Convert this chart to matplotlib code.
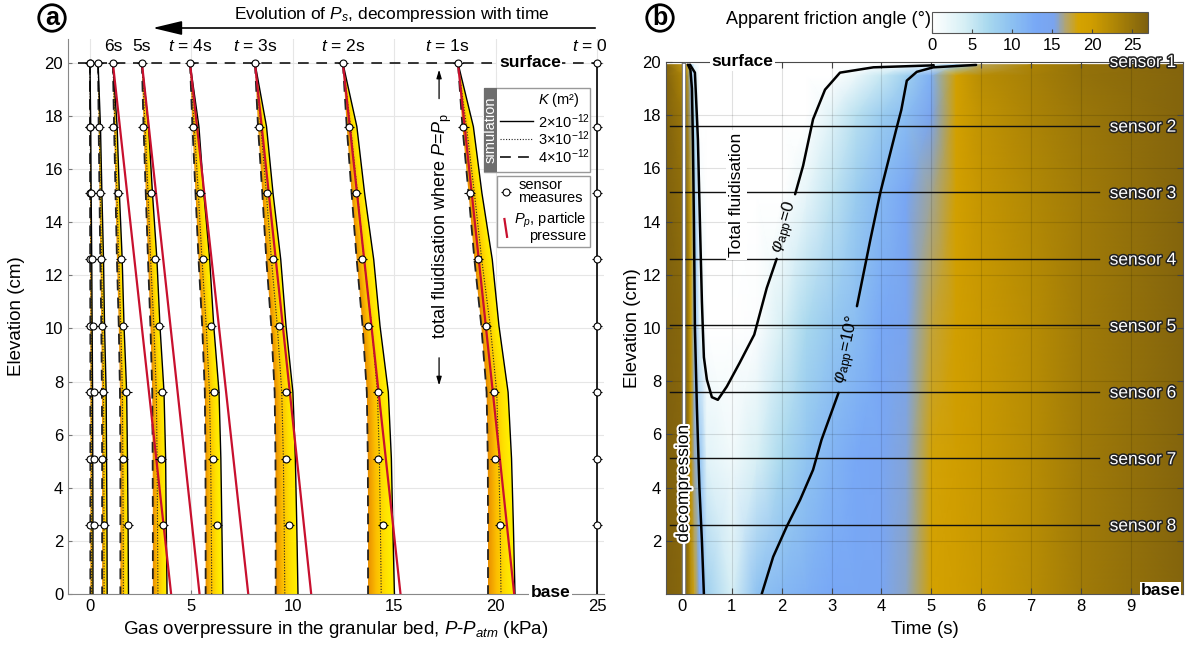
import numpy as np
import matplotlib
matplotlib.use('Agg')
import matplotlib.pyplot as plt
from matplotlib.colors import LinearSegmentedColormap, Normalize
from matplotlib.patches import Polygon, Rectangle, FancyArrowPatch
import matplotlib.patheffects as pe
import matplotlib.cm as cm

plt.rcParams['font.family'] = ['Liberation Sans', 'DejaVu Sans']
plt.rcParams['mathtext.fontset'] = 'custom'
plt.rcParams['mathtext.rm'] = 'Liberation Sans'
plt.rcParams['mathtext.it'] = 'Liberation Sans:italic'
plt.rcParams['mathtext.bf'] = 'Liberation Sans:bold'

# ---------------- data: panel (a) ----------------
sensor_z = [20, 17.6, 15.1, 12.6, 10.1, 7.6, 5.1, 2.6]
node_z = [20, 17.6, 15.1, 12.6, 10.1, 7.6, 5.1, 2.6, 0]

# simulated gas overpressure profiles (kPa) for 8 times (late -> early)
sim_K4 = [  # K = 4e-12 (dashed)
    [0.00, 0.00, 0.01, 0.01, 0.02, 0.02, 0.02, 0.02, 0.02],
    [0.40, 0.43, 0.47, 0.51, 0.56, 0.59, 0.60, 0.60, 0.60],
    [1.13, 1.19, 1.26, 1.33, 1.42, 1.48, 1.50, 1.50, 1.50],
    [2.56, 2.64, 2.75, 2.86, 2.98, 3.07, 3.09, 3.10, 3.10],
    [4.93, 5.05, 5.20, 5.35, 5.53, 5.66, 5.69, 5.70, 5.70],
    [8.13, 8.28, 8.49, 8.69, 8.93, 9.10, 9.14, 9.15, 9.15],
    [12.46, 12.65, 12.89, 13.14, 13.43, 13.64, 13.69, 13.70, 13.70],
    [18.13, 18.35, 18.65, 18.94, 19.28, 19.54, 19.60, 19.61, 19.61],
]
sim_K3 = [  # K = 3e-12 (dotted)
    [0.00, 0.02, 0.03, 0.04, 0.06, 0.07, 0.08, 0.08, 0.08],
    [0.40, 0.46, 0.51, 0.57, 0.63, 0.67, 0.69, 0.69, 0.70],
    [1.13, 1.23, 1.33, 1.42, 1.52, 1.60, 1.62, 1.64, 1.65],
    [2.56, 2.72, 2.86, 2.99, 3.15, 3.27, 3.31, 3.33, 3.35],
    [4.93, 5.14, 5.34, 5.52, 5.73, 5.89, 5.95, 5.98, 6.00],
    [8.13, 8.42, 8.69, 8.94, 9.23, 9.45, 9.53, 9.57, 9.60],
    [12.46, 12.84, 13.18, 13.50, 13.88, 14.16, 14.26, 14.31, 14.35],
    [18.13, 18.55, 18.94, 19.30, 19.72, 20.04, 20.14, 20.21, 20.25],
]
sim_K2 = [  # K = 2e-12 (solid)
    [0.00, 0.04, 0.06, 0.09, 0.11, 0.13, 0.14, 0.15, 0.15],
    [0.40, 0.52, 0.59, 0.67, 0.72, 0.80, 0.82, 0.84, 0.85],
    [1.13, 1.34, 1.45, 1.59, 1.68, 1.81, 1.85, 1.88, 1.90],
    [2.56, 2.89, 3.08, 3.30, 3.45, 3.65, 3.73, 3.76, 3.80],
    [4.93, 5.37, 5.61, 5.90, 6.10, 6.36, 6.45, 6.50, 6.55],
    [8.13, 8.70, 9.02, 9.40, 9.66, 10.00, 10.12, 10.19, 10.25],
    [12.46, 13.15, 13.53, 13.98, 14.29, 14.70, 14.85, 14.92, 15.00],
    [18.13, 18.89, 19.31, 19.82, 20.15, 20.60, 20.77, 20.86, 20.94],
]
# measured sensor values (kPa)
sensor_P = [
    [0.00, 0.00, 0.00, 0.00, 0.00, 0.00, 0.00, 0.00],
    [0.00, 0.02, 0.05, 0.10, 0.15, 0.21, 0.20, 0.21],
    [0.39, 0.46, 0.49, 0.55, 0.60, 0.66, 0.61, 0.69],
    [1.13, 1.12, 1.38, 1.55, 1.65, 1.80, 1.64, 1.86],
    [2.56, 2.63, 2.99, 3.20, 3.40, 3.56, 3.48, 3.61],
    [4.93, 5.06, 5.42, 5.57, 5.96, 6.12, 6.07, 6.24],
    [8.13, 8.33, 8.74, 9.00, 9.30, 9.65, 9.64, 9.82],
    [12.48, 12.76, 13.09, 13.40, 13.70, 14.19, 14.19, 14.43],
    [18.13, 18.40, 18.70, 19.10, 19.50, 19.90, 19.95, 20.20],
    [25.0, 25.0, 25.0, 25.0, 25.0, 25.0, 25.0, 25.0],
]
# particle pressure lines: value at surface and at base
Pp_top = [1.13, 2.56, 4.93, 8.13, 12.46, 18.13]
Pp_base = [4.0, 5.4, 7.8, 10.9, 15.3, 20.9]
time_labels = ['6s', '5s', r'$t$ = 4s', r'$t$ = 3s', r'$t$ = 2s', r'$t$ = 1s', r'$t$ = 0']
time_label_x = [1.13, 2.56, 4.93, 8.13, 12.46, 17.6, 24.65]

# ---------------- data: panel (b) ----------------
field_t = [-0.35, 0.1, 0.18, 0.25, 0.35, 0.5, 1.0, 1.5, 2.0, 2.5, 3.0, 3.5,
           4.0, 4.5, 5.0, 5.5, 6.0, 7.0, 8.0, 10.1]
field_z = [0, 5, 10, 15, 18, 19.5, 19.9]
phi_z0 = [27, 26, 22, 18, 14, 8, 4, 9.8, 11, 12, 13, 13.5, 14, 15.8, 18.5, 19.8, 20.5, 22, 24, 26.5]
phi_z5 = [27, 26, 21, 16, 10, 3, 1.5, 4, 7, 9.5, 11.5, 13, 14, 15.6, 18.2, 19.6, 20.5, 22, 24, 26.5]
phi_z10 = [27, 26, 20, 11, 3, 0, 0, 0.5, 4, 7, 9, 10.5, 13, 15.2, 17.5, 19.5, 20.5, 22, 24, 26.5]
phi_z15 = [27, 25, 18, 9, 1, 0, 0, 0, 0, 2.5, 5.5, 8.5, 11, 14, 16.3, 19, 20.8, 22.5, 24, 26.5]
phi_z18 = [27, 24, 16, 7, 0, 0, 0, 0, 0, 0, 3, 6, 8.5, 10.5, 15.2, 19, 21.3, 23, 24.5, 26.5]
phi_z195 = [27, 22, 12, 4, 0, 0, 0, 0, 0, 0, 0, 2, 5, 8, 12, 19, 22, 23.5, 25, 26.5]
phi_z199 = [27, 18, 8, 2, 0, 0, 0, 0, 0, 0, 0, 0, 0, 1, 3, 9, 17, 23, 25, 26.5]

# contour phi_app = 0 (two pieces, gap for label)
phi0_a_t = [0.16, 0.26, 0.32, 0.36, 0.40, 0.42, 0.44, 0.50, 0.60, 0.72, 0.90, 1.16, 1.45, 1.70, 1.90]
phi0_a_z = [19.9, 19.6, 17.1, 14.0, 11.0, 9.9, 8.9, 8.06, 7.4, 7.3, 7.8, 8.7, 9.75, 11.5, 12.6]
phi0_b_t = [2.27, 2.43, 2.63, 2.87, 3.17, 3.84, 4.98, 5.05]
phi0_b_z = [15.03, 16.1, 17.85, 18.96, 19.6, 19.8, 19.87, 19.88]
# contour phi_app = 10 deg
phi10_l_t = [0.12, 0.17, 0.20, 0.22, 0.24, 0.26, 0.30, 0.35, 0.40, 0.44]
phi10_l_z = [19.9, 19.7, 19.0, 17.0, 14.0, 10.0, 7.0, 4.0, 2.0, 0.0]
phi10_a_t = [3.51, 3.78, 3.98, 4.30, 4.40, 4.51, 4.71, 5.04, 5.90]
phi10_a_z = [10.82, 13.33, 15.1, 17.48, 18.2, 19.3, 19.63, 19.8, 19.89]
phi10_b_t = [3.14, 2.80, 2.63, 2.37, 2.10, 1.83, 1.60]
phi10_b_z = [7.56, 5.8, 4.67, 3.54, 2.53, 1.4, 0.0]
sensor_names = ['sensor %d' % i for i in range(1, 9)]

# ---------------- figure ----------------
W, H = 1189, 648
fig = plt.figure(figsize=(W / 100, H / 100), dpi=100)
axA = fig.add_axes([68 / W, 1 - 594 / H, (603.5 - 68) / W, (594 - 39) / H])
axB = fig.add_axes([666 / W, 1 - 594 / H, (1183 - 666) / W, (594 - 62) / H])
cax = fig.add_axes([932 / W, 1 - 33 / H, 216 / W, 21 / H])

FS_TICK = 12
FS_LAB = 13.5

# ---- panel a ----
band_cmap = LinearSegmentedColormap.from_list(
    'band', [(0, '#ea9000'), (0.3, '#fcbe00'), (0.65, '#ffe000'), (1, '#fff400')])
zz = np.linspace(0, 20, 300)
zn = np.array(node_z)[::-1]
for L, M, R in zip(sim_K4, sim_K3, sim_K2):
    L = np.array(L); R = np.array(R)
    xs = np.concatenate([L, R[::-1]])
    ys = np.concatenate([node_z, node_z[::-1]])
    poly = Polygon(np.column_stack([xs, ys]), closed=True, fc='none', ec='none')
    axA.add_patch(poly)
    x0, x1 = L.min() - 0.05, R.max() + 0.05
    xx = np.linspace(x0, x1, 200)
    Li = np.interp(zz, zn, L[::-1]); Ri = np.interp(zz, zn, R[::-1])
    frac = (xx[None, :] - Li[:, None]) / np.maximum(Ri - Li, 1e-3)[:, None]
    im = axA.imshow(np.clip(frac, 0, 1), extent=[x0, x1, 0, 20], origin='lower', cmap=band_cmap,
                    vmin=0, vmax=1, aspect='auto', interpolation='bilinear', zorder=2)
    im.set_clip_path(poly)
    axA.plot(L, node_z, color='#222222', lw=1.3, ls=(0, (6, 4)), zorder=3)
    axA.plot(M, node_z, color='#222222', lw=0.8, ls=(0, (1, 1.5)), zorder=3)
    axA.plot(R, node_z, color='black', lw=1.0, zorder=3)

# t = 0 profile
axA.plot([25, 25], [0, 20], color='black', lw=1.2, zorder=3)

for a, b in zip(Pp_top, Pp_base):
    axA.plot([a, b], [20, 0], color='#c8102e', lw=1.6, zorder=4)

for P in sensor_P:
    axA.errorbar(P, sensor_z, xerr=0.25, fmt='o', ms=5, mfc='white', mec='black', mew=0.8,
                 ecolor='black', elinewidth=0.8, capsize=0, zorder=6)

# surface dashed line
axA.plot([-0.6, 25], [20, 20], color='black', lw=1.1, ls=(0, (7, 5)), zorder=2.5)

axA.set_xlim(-1.08, 25.3)
axA.set_ylim(0, 20.9)
axA.set_xticks(range(0, 26, 5))
axA.set_yticks(range(0, 21, 2))
axA.tick_params(direction='in', length=3, labelsize=FS_TICK, color='#777777')
for s in ['top', 'right']:
    axA.spines[s].set_visible(False)
for s in ['left', 'bottom']:
    axA.spines[s].set_color('#888888')
axA.grid(True, color='#e6e6e6', lw=0.8)
axA.set_axisbelow(True)
axA.set_xlabel('Gas overpressure in the granular bed, $P$-$P_{atm}$ (kPa)', fontsize=FS_LAB, labelpad=4)
axA.set_ylabel('Elevation (cm)', fontsize=FS_LAB, labelpad=14)

for lab, x in zip(time_labels, time_label_x):
    axA.text(x, 20.62, lab, ha='center', va='center', fontsize=12.5, zorder=7)

axA.text(21.67, 20, 'surface', fontsize=12.5, fontweight='bold', ha='center', va='center', zorder=7,
         bbox=dict(fc='white', ec='none', pad=1))
axA.text(22.7, 0.05, 'base', fontsize=12.5, fontweight='bold', ha='center', va='center', zorder=7,
         bbox=dict(fc='white', ec='none', pad=1), clip_on=False)

# total fluidisation annotation
axA.text(17.35, 13.86, 'total fluidisation where $P$=$P_\\mathrm{p}$', rotation=90, fontsize=13,
         ha='center', va='center', zorder=7)
axA.annotate('', xy=(17.2, 19.85), xytext=(17.2, 18.55),
             arrowprops=dict(arrowstyle='-|>,head_length=0.5,head_width=0.15', color='black', lw=0.9), zorder=7)
axA.annotate('', xy=(17.2, 7.75), xytext=(17.2, 9.0),
             arrowprops=dict(arrowstyle='-|>,head_length=0.5,head_width=0.15', color='black', lw=0.9), zorder=7)

# legend box 1 (simulation)
axA.add_patch(Rectangle((19.41, 15.89), 5.22, 3.17, fc='white', ec='#999999', lw=1, zorder=8))
axA.add_patch(Rectangle((19.41, 15.89), 0.64, 3.17, fc='#6e6e6e', ec='none', zorder=9))
axA.text(19.73, 17.47, 'simulation', rotation=90, color='white', fontsize=10.5, ha='center', va='center', zorder=10)
axA.text(23.1, 18.62, '$K$ (m²)', fontsize=10.5, ha='center', va='center', zorder=10)
leg_styles = [dict(color='black', lw=1.0), dict(color='#222222', lw=0.8, ls=(0, (1, 1.5))),
              dict(color='#222222', lw=1.3, ls=(0, (6, 4)))]
leg_labels = ['2×10$^{-12}$', '3×10$^{-12}$', '4×10$^{-12}$']
for zy, st, lab in zip([17.8, 17.15, 16.45], leg_styles, leg_labels):
    axA.plot([20.2, 21.85], [zy, zy], zorder=10, **st)
    axA.text(22.05, zy, lab, fontsize=10.5, ha='left', va='center', zorder=10)

# legend box 2
axA.add_patch(Rectangle((20.05, 13.07), 4.58, 2.67, fc='white', ec='#999999', lw=1, zorder=8))
axA.errorbar([20.5], [15.14], xerr=0.25, fmt='o', ms=5, mfc='white', mec='black', mew=0.8,
             ecolor='black', elinewidth=0.8, capsize=0, zorder=10)
axA.text(21.1, 15.15, 'sensor\nmeasures', fontsize=10.5, ha='left', va='center', linespacing=0.95, zorder=10)
axA.plot([20.42, 20.55], [14.12, 13.45], color='#c8102e', lw=1.6, zorder=10)
axA.text(24.45, 13.82, '$P_p$, particle\npressure', fontsize=10.5, ha='right', va='center',
         linespacing=0.95, multialignment='right', zorder=10)

# ---- panel b ----
phi_cmap = LinearSegmentedColormap.from_list('phi', [
    (0 / 27, '#ffffff'), (4 / 27, '#d6eff5'), (7 / 27, '#a8d8ee'), (10 / 27, '#8cc0f1'),
    (13 / 27, '#78a8f6'), (15.3 / 27, '#7aa4ee'), (16.8 / 27, '#b4a46a'), (18.3 / 27, '#d5a300'),
    (20 / 27, '#cf9d00'), (23 / 27, '#ad8506'), (27 / 27, '#7e600e')])
PHI = np.array([phi_z0, phi_z5, phi_z10, phi_z15, phi_z18, phi_z195, phi_z199])
axB.pcolormesh(field_t, field_z, PHI, shading='gouraud', cmap=phi_cmap, vmin=0, vmax=27, zorder=1)

axB.grid(True, color='black', alpha=0.12, lw=0.8)
axB.set_axisbelow(False)

# decompression line
axB.plot([0.05, 0.05], [0, 19.9], color='#777777', lw=3.2, zorder=3)
axB.plot([0.05, 0.05], [0, 19.9], color='white', lw=1.6, zorder=3.1)

# sensor lines
for z in sensor_z[1:]:
    axB.plot([-0.24, 8.37], [z, z], color='#111111', lw=1.0, zorder=3)

for tt, zv in [(phi0_a_t, phi0_a_z), (phi0_b_t, phi0_b_z), (phi10_l_t, phi10_l_z),
               (phi10_a_t, phi10_a_z), (phi10_b_t, phi10_b_z)]:
    axB.plot(tt, zv, color='black', lw=1.8, zorder=4, solid_capstyle='round')

axB.text(2.08, 13.8, r'$\varphi_{\mathrm{app}}$=0', rotation=74, fontsize=12.5, ha='center', va='center', zorder=5)
axB.text(3.33, 9.2, r'$\varphi_{\mathrm{app}}$=10°', rotation=78, fontsize=12.5, ha='center', va='center', zorder=5)

axB.text(1.09, 15.0, 'Total fluidisation', rotation=90, fontsize=12.5, ha='center', va='center', zorder=5,
         bbox=dict(fc='white', ec='none', pad=2))
axB.text(0.03, 4.15, 'decompression', rotation=90, fontsize=12.5, ha='center', va='center', zorder=5,
         path_effects=[pe.withStroke(linewidth=3, foreground='white')])

for name, z in zip(sensor_names, sensor_z):
    axB.text(9.25, z - 0.05 if z < 20 else 19.98, name, fontsize=12.5, color='white', ha='center', va='center',
             zorder=6, clip_on=False, path_effects=[pe.withStroke(linewidth=2.2, foreground='#222222')])

axB.text(1.21, 20.0, 'surface', fontsize=12.5, fontweight='bold', ha='center', va='center', zorder=7,
         clip_on=False, bbox=dict(fc='white', ec='none', pad=1))
axB.text(9.6, 0.15, 'base', fontsize=12.5, fontweight='bold', ha='center', va='center', zorder=7,
         clip_on=False, bbox=dict(fc='white', ec='none', pad=0.5))

axB.set_xlim(-0.32, 10.05)
axB.set_ylim(0, 20)
axB.set_xticks(range(0, 10))
axB.set_yticks(range(2, 21, 2))
axB.tick_params(direction='in', length=4, labelsize=FS_TICK, top=True, right=True, color='#444444')
for s in axB.spines.values():
    s.set_color('#555555')
axB.set_xlabel('Time (s)', fontsize=FS_LAB, labelpad=5)
axB.set_ylabel('Elevation (cm)', fontsize=FS_LAB, labelpad=1)

# colorbar
sm = cm.ScalarMappable(norm=Normalize(0, 27), cmap=phi_cmap)
cb = fig.colorbar(sm, cax=cax, orientation='horizontal')
cb.set_ticks([0, 5, 10, 15, 20, 25])
cax.tick_params(direction='in', length=3, labelsize=FS_TICK, color='#444444')
cb.outline.set_edgecolor('#555555')
fig.text(829 / W, 1 - 20 / H, 'Apparent friction angle (°)', fontsize=13, ha='center', va='center')

# titles / panel letters
fig.text(392 / W, 1 - 15 / H, 'Evolution of $P_s$, decompression with time', fontsize=12.5, ha='center', va='center')
fig.add_artist(FancyArrowPatch((598 / W, 1 - 28 / H), (150 / W, 1 - 28 / H), transform=fig.transFigure,
                               arrowstyle='-|>,head_length=1.5,head_width=0.36', mutation_scale=12,
                               lw=1.2, color='black'))
for letter, x in [('a', 52), ('b', 660)]:
    fig.text(x / W, 1 - 18 / H, letter, fontsize=18, fontweight='bold', ha='center', va='center',
             bbox=dict(boxstyle='circle,pad=0.05', fc='white', ec='black', lw=2))

fig.savefig('out.png', dpi=100)
